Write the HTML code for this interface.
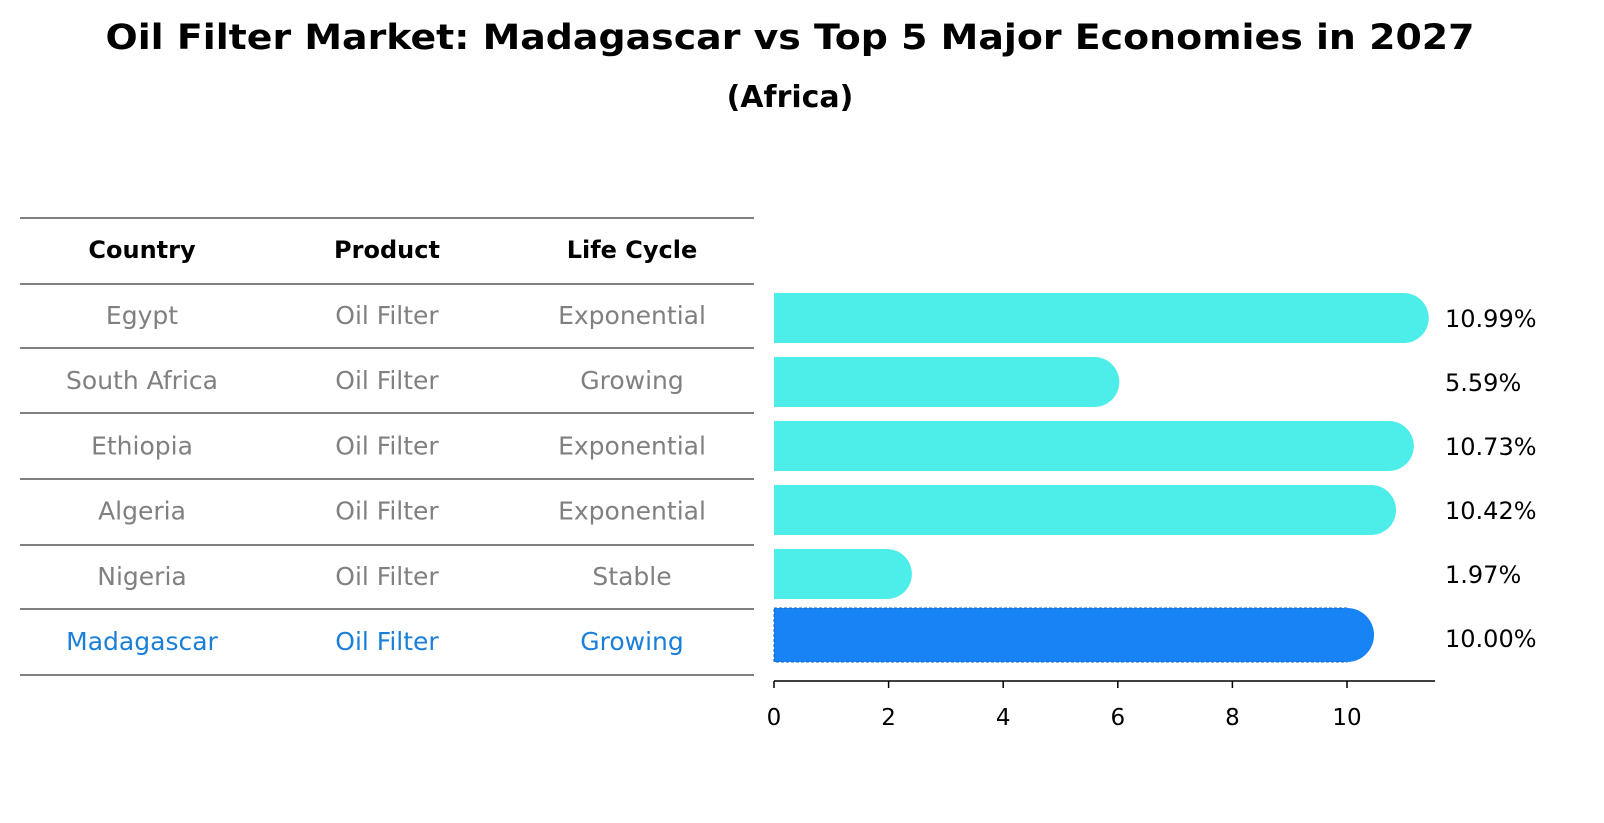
<!DOCTYPE html>
<html><head><meta charset="utf-8"><style>
html,body{margin:0;padding:0;background:#fff;overflow:hidden;width:1604px;height:823px;}
svg{display:block;}
svg text{font-family:"DejaVu Sans","Liberation Sans",sans-serif;}
</style></head><body>
<svg width="1604" height="823" xmlns="http://www.w3.org/2000/svg">
<text x="790" y="49" text-anchor="middle" font-size="35" font-weight="bold" textLength="1369" lengthAdjust="spacingAndGlyphs">Oil Filter Market: Madagascar vs Top 5 Major Economies in 2027</text>
<text x="790" y="107" text-anchor="middle" font-size="30" font-weight="bold">(Africa)</text>
<g id="table"></g>
<g id="bars"></g>
</svg>
<script>
const countries=["Egypt","South Africa","Ethiopia","Algeria","Nigeria","Madagascar"];
const products=["Oil Filter","Oil Filter","Oil Filter","Oil Filter","Oil Filter","Oil Filter"];
const lifecycles=["Exponential","Growing","Exponential","Exponential","Stable","Growing"];
const values=[10.99,5.59,10.73,10.42,1.97,10.00];
const tickLabels=[0,2,4,6,8,10];
const NS="http://www.w3.org/2000/svg";
function mk(tag,attrs,parent,text){const e=document.createElementNS(NS,tag);for(const k in attrs)e.setAttribute(k,attrs[k]);if(text!==undefined)e.textContent=text;parent.appendChild(e);return e;}
const tbl=document.getElementById('table');
const lineYs=[218,284,348,413,479,545,609,675];
lineYs.forEach(y=>{const l=mk('line',{x1:20,x2:754,y1:y,y2:y,stroke:'#000','stroke-width':1},tbl);

});
const colX=[142,387,632];
["Country","Product","Life Cycle"].forEach((h,i)=>{const t=mk('text',{x:colX[i],y:258,'text-anchor':'middle','font-size':24,'font-weight':'bold'},tbl,h);

});
const rowY=i=>316+i*65.2;
countries.forEach((c,i)=>{const col=i===countries.length-1?'#1a7fd8':'#808080';
[c,products[i],lifecycles[i]].forEach((v,j)=>{const t=mk('text',{x:colX[j],y:rowY(i)+8,'text-anchor':'middle','font-size':25,fill:col},tbl,v);

});});
const bars=document.getElementById('bars');
const x0=774,ppu=57.3;
const xs=v=>x0+v*ppu;
const barY=i=>318+i*64;
values.forEach((v,i)=>{const last=i===values.length-1;const h=last?54:50;const cy=last?barY(i)-3:barY(i);const col=last?'#1783f5':'#4deeea';
const g=mk('g',{},bars);


mk('rect',{x:x0,y:cy-h/2,width:xs(v)-x0,height:h,fill:col,stroke:last?'#1565c0':'none','stroke-dasharray':'3,2','stroke-width':1},g);
mk('circle',{cx:xs(v),cy:cy,r:h/2,fill:col},g);
const t=mk('text',{x:1445,y:barY(i)+9,'font-size':24},bars,v.toFixed(2)+'%');

});
const ax=mk('line',{x1:x0,x2:1435,y1:681,y2:681,stroke:'#000','stroke-width':1.5},bars);


tickLabels.forEach(t=>{const tk=mk('line',{x1:xs(t),x2:xs(t),y1:681,y2:688,stroke:'#000','stroke-width':1.5},bars);


const l=mk('text',{x:xs(t),y:725,'text-anchor':'middle','font-size':23},bars,String(t));

});
</script>
</body></html>
